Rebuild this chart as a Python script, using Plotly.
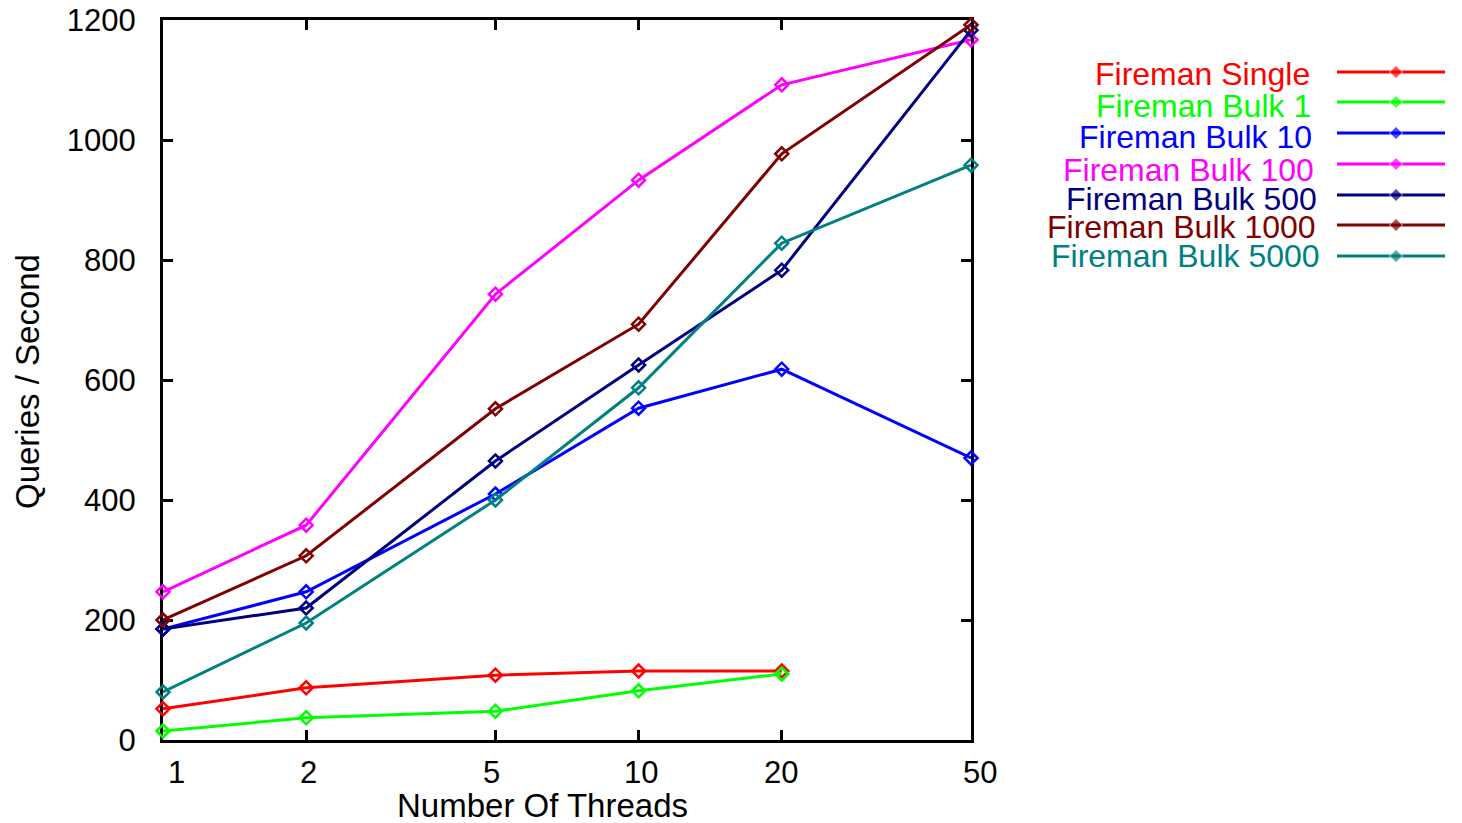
import math
import plotly.graph_objects as go

threads = [1, 2, 5, 10, 20, 50]

series_names = ["Fireman Single", "Fireman Bulk 1", "Fireman Bulk 10", "Fireman Bulk 100",
                "Fireman Bulk 500", "Fireman Bulk 1000", "Fireman Bulk 5000"]
series_colors = ["#ff0000", "#00ff00", "#0000ff", "#ff00ff", "#000080", "#800000", "#008080"]

fireman_single = [52, 87, 108, 115, 115]
fireman_bulk_1 = [15, 37, 48, 82, 110]
fireman_bulk_10 = [185, 247, 410, 553, 618, 470]
fireman_bulk_100 = [247, 358, 743, 933, 1092, 1167]
fireman_bulk_500 = [185, 220, 465, 625, 783, 1183]
fireman_bulk_1000 = [200, 307, 552, 693, 977, 1192]
fireman_bulk_5000 = [80, 195, 400, 587, 828, 958]

series_values = [fireman_single, fireman_bulk_1, fireman_bulk_10, fireman_bulk_100,
                 fireman_bulk_500, fireman_bulk_1000, fireman_bulk_5000]

x_ticks = [1, 2, 5, 10, 20, 50]
x_tick_labels = ["1", "2", "5", "10", "20", "50"]
y_ticks = [0, 200, 400, 600, 800, 1000, 1200]

FONT = "Liberation Sans, Arial, sans-serif"
W, H = 1447, 823          # effective viewport width (page shows a vertical scrollbar)
ML, MR, MT, MB = 163, 2, 20, 83
PW = W - ML - MR
PH = H - MT - MB
plot_right = 971

def px_x(p):
    return (p - ML) / PW

fig = go.Figure()

for name, color, vals in zip(series_names, series_colors, series_values):
    fig.add_trace(go.Scatter(
        x=threads[:len(vals)], y=vals, mode="lines+markers", name=name,
        line=dict(color=color, width=3),
        marker=dict(symbol="diamond-open", size=10, color=color, line=dict(width=2.5, color=color)),
        cliponaxis=False, showlegend=False, xaxis="x", yaxis="y"))

# gnuplot-style key: text right-aligned on the left, line sample on the right
key_line_rows = [72, 102, 133, 164, 195, 225, 256]
key_text_rows = [74, 106, 137, 170, 199, 227, 256]
key_text_right = [1312, 1313, 1314, 1316, 1319, 1318, 1322]
for name, color, row, trow, tr in zip(series_names, series_colors, key_line_rows,
                                      key_text_rows, key_text_right):
    fig.add_trace(go.Scatter(
        x=[0, 0.5, 1], y=[row, row, row], mode="lines+markers",
        line=dict(color=color, width=3),
        marker=dict(symbol="diamond", size=[0, 10, 0], color=color),
        cliponaxis=False, showlegend=False, xaxis="x2", yaxis="y2", hoverinfo="skip"))
    fig.add_annotation(text=name, x=px_x(tr), xref="paper", xanchor="right",
                       y=trow, yref="y2", yanchor="middle", showarrow=False,
                       font=dict(family=FONT, size=32, color=color))

# x tick labels (gnuplot places them slightly off-centre)
x_label_shift = [13, 2, -4, 2, -1, 9]
for v, lab, dx in zip(x_ticks, x_tick_labels, x_label_shift):
    fig.add_annotation(text=lab, x=math.log10(v), xref="x", xanchor="center", xshift=dx,
                       y=0, yref="paper", yanchor="middle", yshift=-32, showarrow=False,
                       font=dict(family=FONT, size=31, color="black"))

fig.add_annotation(text="Number Of Threads", x=px_x(542), xref="paper", xanchor="center",
                   y=-(806 - (H - MB)) / PH, yref="paper", yanchor="middle", showarrow=False,
                   font=dict(family=FONT, size=33, color="black"))
fig.add_annotation(text="Queries / Second", x=px_x(27), xref="paper", xanchor="center",
                   y=1 - (382 - MT) / PH, yref="paper", yanchor="middle", showarrow=False,
                   textangle=-90, font=dict(family=FONT, size=33, color="black"))

axis_common = dict(showline=True, linecolor="black", linewidth=3, mirror="ticks",
                   ticks="inside", ticklen=10, tickwidth=3, tickcolor="black",
                   showgrid=False, zeroline=False, layer="below traces",
                   tickfont=dict(family=FONT, size=31, color="black"))

fig.update_layout(
    width=W, height=H,
    margin=dict(l=ML, r=MR, t=MT, b=MB),
    paper_bgcolor="white", plot_bgcolor="white",
    xaxis=dict(type="log", range=[0, math.log10(50) + 1e-7], domain=[0, px_x(plot_right)],
               tickvals=x_ticks, showticklabels=False, **axis_common),
    yaxis=dict(range=[0, 1200], tickvals=y_ticks, ticklabelstandoff=18, **axis_common),
    xaxis2=dict(domain=[px_x(1337), 1.0], range=[0, (W - MR - 1337) / 118], visible=False,
                anchor="y2"),
    yaxis2=dict(domain=[0, 1], range=[H - MB, MT], visible=False, anchor="x2"),
)

fig.write_html("out.html")
